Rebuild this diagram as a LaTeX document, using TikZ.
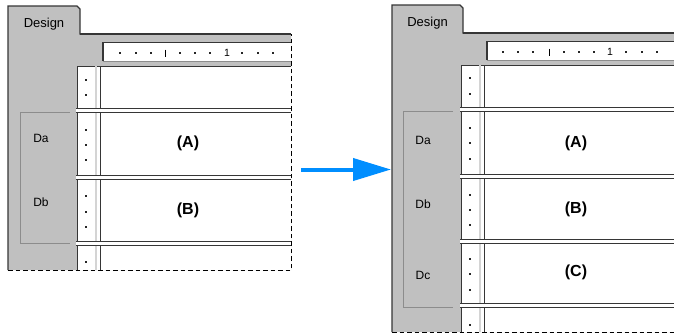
\documentclass[tikz,border=0pt]{standalone}
\usepackage{fontspec}
\setmainfont{Liberation Sans}
\usetikzlibrary{arrows.meta}
\definecolor{wgray}{HTML}{C0C0C0}
\definecolor{dline}{HTML}{363636}
\definecolor{mline}{HTML}{8C8C8C}
\definecolor{lline}{HTML}{D4D4D4}
\definecolor{arrblue}{RGB}{0,142,255}
\tikzset{
  darkln/.style={draw=dline,line width=1.2pt},
  topln/.style={draw=dline,line width=1.7pt},
  boxln/.style={draw=mline,line width=1pt},
  sepln/.style={draw=dline,line width=1.3pt},
  dashln/.style={draw=black,line width=1pt,dash pattern=on 4.5pt off 3pt},
  tabtxt/.style={font=\fontsize{13}{13}\selectfont,inner sep=0pt,anchor=base},
  bandtxt/.style={font=\fontsize{12}{12}\selectfont,inner sep=0pt},
  rowtxt/.style={font=\fontsize{16}{16}\selectfont\bfseries,inner sep=0pt},
  rultxt/.style={font=\fontsize{10.5}{10.5}\selectfont,inner sep=0pt},
  dotmark/.style={fill=black!85}
}
\begin{document}
\begin{tikzpicture}[x=1pt,y=-1pt]
\useasboundingbox (0,0) rectangle (674,335);
\fill[white] (0,0) rectangle (674,335);

% ---------------- left panel ----------------
\begin{scope}
\fill[wgray] (8,270) -- (8,6) -- (77,6) -- (80,9) -- (80,34) -- (291,34) -- (291,270) -- cycle;
\fill[white] (103,42) rectangle (291,61);
\fill[white] (77,66) rectangle (291,270);
\draw[boxln] (103,61) -- (291,61);
\draw[darkln] (103,61) -- (103,42.6) -- (291,42.6);
\foreach \x in {120,136,151,180,195,210,242,258,273}
  \fill[dotmark] (\x-0.75,52.3) rectangle (\x+0.75,53.8);
\draw[line width=1pt] (165,49.5) -- (165,56.5);
\node[rultxt] (lone) at (227,52.5) {1};
\draw[darkln] (77.6,270) -- (77.6,66.6) -- (291,66.6);
\draw[lline,line width=2pt] (96,66) -- (96,270);
\draw[dline,line width=1.5pt] (100.6,66) -- (100.6,270);
\foreach \y in {80,95,130,145,160,196,212,227,262}
  \fill[dotmark] (85.3,\y-0.55) rectangle (87.3,\y+0.55);
\foreach \c in {110.5,177.5,243.5} {
  \fill[white] (76,\c-2.3) rectangle (291,\c+2.3);
  \draw[sepln] (76,\c-1.7) -- (291,\c-1.7) (76,\c+1.7) -- (291,\c+1.7);
}
\draw[boxln] (70,112) -- (20,112) -- (20,243) -- (70,243);
\draw[darkln] (8,270) -- (8,6) -- (77,6) -- (80,9) -- (80,34.5);
\draw[topln] (80,34) -- (291,34);
\draw[dashln] (8,270) -- (291,270) -- (291,34);
\node[tabtxt] (ltab) at (44,27) {Design};
\node[bandtxt] (lda) at (41,138) {Da};
\node[bandtxt] (ldb) at (41,202) {Db};
\node[rowtxt] (lra) at (188,143) {(A)};
\node[rowtxt] (lrb) at (188,210) {(B)};
\end{scope}

% ---------------- arrow ----------------
\coordinate (arrS) at (301,169.5);
\coordinate (arrE) at (391,169.5);
\draw[arrblue,line width=4pt,-{Triangle[length=38pt,width=22pt]}] (arrS) -- (arrE);

% ---------------- right panel ----------------
\begin{scope}[shift={(384,-1)}]
\fill[wgray] (8,333) -- (8,6) -- (76,6) -- (79,9) -- (79,34) -- (292,34) -- (292,333) -- cycle;
\fill[white] (103,42) rectangle (292,61);
\fill[white] (77,66) rectangle (292,333);
\draw[boxln] (103,61) -- (292,61);
\draw[darkln] (103,61) -- (103,42.6) -- (292,42.6);
\foreach \x in {119,134,149,180,195,210,242,258,273}
  \fill[dotmark] (\x-0.75,52.3) rectangle (\x+0.75,53.8);
\draw[line width=1pt] (165,49.5) -- (165,56.5);
\node[rultxt] (rone) at (226,52.5) {1};
\draw[darkln] (77.6,333) -- (77.6,66.6) -- (292,66.6);
\draw[lline,line width=2pt] (96,66) -- (96,333);
\draw[dline,line width=1.5pt] (100.6,66) -- (100.6,333);
\foreach \y in {79,95,129,144,160,196,211,226,260,275,291,326}
  \fill[dotmark] (85.3,\y-0.55) rectangle (87.3,\y+0.55);
\foreach \c in {110.5,177.5,242.5,306.5} {
  \fill[white] (76,\c-2.3) rectangle (292,\c+2.3);
  \draw[sepln] (76,\c-1.7) -- (292,\c-1.7) (76,\c+1.7) -- (292,\c+1.7);
}
\draw[boxln] (69,112) -- (19,112) -- (19,308) -- (69,308);
\draw[darkln] (8,333) -- (8,6) -- (76,6) -- (79,9) -- (79,34.5);
\draw[topln] (79,34) -- (292,34);
\draw[dashln] (8,333) -- (292,333);
\node[tabtxt] (rtab) at (43.5,27) {Design};
\node[bandtxt] (rda) at (39,141) {Da};
\node[bandtxt] (rdb) at (39,205) {Db};
\node[bandtxt] (rdc) at (39,276) {Dc};
\node[rowtxt] (rra) at (192,144) {(A)};
\node[rowtxt] (rrb) at (192,210) {(B)};
\node[rowtxt] (rrc) at (192,273) {(C)};
\end{scope}
\end{tikzpicture}
\end{document}
